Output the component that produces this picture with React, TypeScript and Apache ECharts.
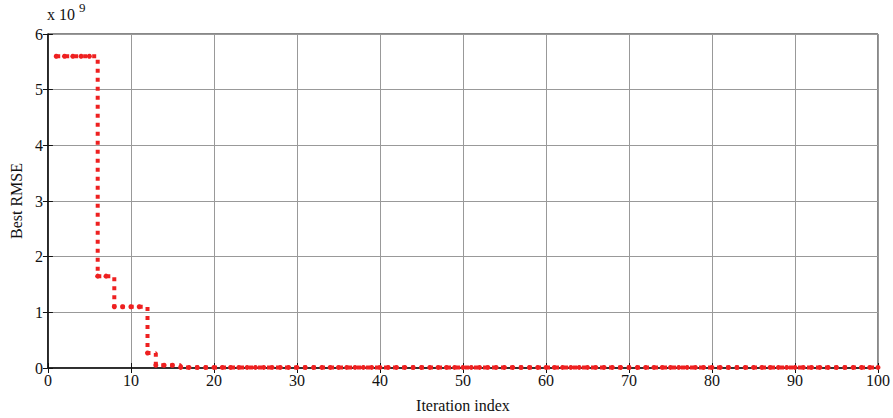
import React, { useEffect, useRef } from "react";
import * as echarts from "echarts";

const iterations: number[] = Array.from({ length: 100 }, (_, i) => i + 1);
// Best RMSE per iteration, in units of 1e9
const stageValues: number[] = [5.6, 1.65, 1.1, 0.27, 0.05, 0.01];
const stageStarts: number[] = [1, 6, 8, 12, 13, 16];
const xTicks: number[] = [0, 10, 20, 30, 40, 50, 60, 70, 80, 90, 100];
const yTicks: number[] = [0, 1, 2, 3, 4, 5, 6];

function valueAt(it: number): number {
  let v = stageValues[0];
  for (let i = 0; i < stageStarts.length; i++) {
    if (it >= stageStarts[i]) v = stageValues[i];
  }
  return v;
}

const seriesData: number[][] = iterations.map((it) => [it, valueAt(it)]);

const FONT = "'Liberation Serif', 'Times New Roman', serif";

export default function App() {
  const ref = useRef<HTMLDivElement>(null);
  useEffect(() => {
    if (!ref.current) return;
    const chart = echarts.init(ref.current, null, { renderer: "svg" });
    chart.setOption({
      animation: false,
      backgroundColor: "#fff",
      textStyle: { fontFamily: FONT, fontSize: 16, color: "#111" },
      grid: {
        left: 47,
        right: 14,
        top: 34,
        bottom: 48,
        show: true,
        borderColor: "#111",
        borderWidth: 1,
      },
      xAxis: [
        {
          type: "value",
          min: xTicks[0],
          max: xTicks[xTicks.length - 1],
          interval: 10,
          name: "Iteration index",
          nameLocation: "middle",
          nameGap: 29,
          nameTextStyle: { fontFamily: FONT, fontSize: 16, color: "#111" },
          axisLine: { lineStyle: { color: "#111", width: 1.5 } },
          axisTick: { inside: true, length: 5, lineStyle: { color: "#111" } },
          axisLabel: { fontFamily: FONT, fontSize: 16, color: "#111", margin: 4 },
          splitLine: { show: true, lineStyle: { color: "#999", width: 1 } },
        },
        {
          type: "value",
          position: "top",
          min: 0,
          max: 100,
          interval: 10,
          axisLine: { show: false },
          axisTick: { inside: true, length: 5, lineStyle: { color: "#111" } },
          axisLabel: { show: false },
          splitLine: { show: false },
        },
      ],
      yAxis: [
        {
          type: "value",
          min: yTicks[0],
          max: yTicks[yTicks.length - 1],
          interval: 1,
          name: "Best RMSE",
          nameLocation: "middle",
          nameGap: 21,
          nameTextStyle: { fontFamily: FONT, fontSize: 16, color: "#111" },
          axisLine: { lineStyle: { color: "#111", width: 1.5 } },
          axisTick: { inside: true, length: 5, lineStyle: { color: "#111" } },
          axisLabel: { fontFamily: FONT, fontSize: 16, color: "#111", margin: 5 },
          splitLine: { show: true, lineStyle: { color: "#999", width: 1 } },
        },
        {
          type: "value",
          position: "right",
          min: 0,
          max: 6,
          interval: 1,
          axisLine: { show: false },
          axisTick: { inside: true, length: 5, lineStyle: { color: "#111" } },
          axisLabel: { show: false },
          splitLine: { show: false },
        },
      ],
      graphic: [
        {
          type: "text",
          left: 47,
          top: 6,
          style: { text: "x 10", fontFamily: FONT, fontSize: 16, fill: "#111" },
        },
        {
          type: "text",
          left: 79,
          top: 1,
          style: { text: "9", fontFamily: FONT, fontSize: 13, fill: "#111" },
        },
      ],
      series: [
        {
          type: "line",
          step: "end",
          data: seriesData,
          showSymbol: true,
          symbol: "circle",
          symbolSize: 5,
          itemStyle: { color: "#ee2020" },
          lineStyle: { color: "#ee2020", width: 4, type: [4, 5], cap: "butt" },
          z: 5,
        },
      ],
    });
    return () => chart.dispose();
  }, []);
  return (
    <div
      ref={ref}
      style={{ position: "fixed", left: 0, top: 0, width: 893, height: 418, background: "#fff" }}
    />
  );
}
